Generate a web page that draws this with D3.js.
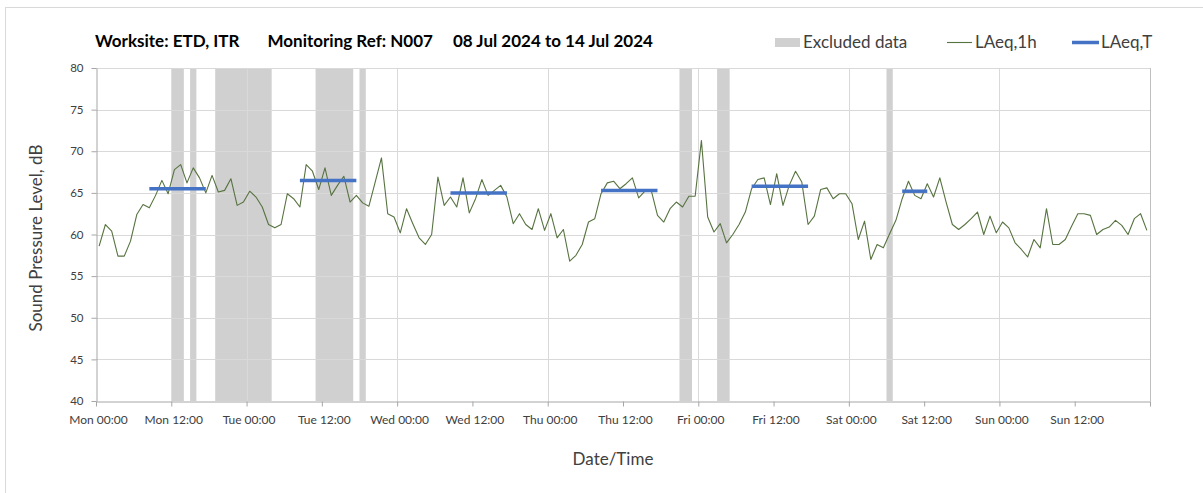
<!DOCTYPE html>
<html><head><meta charset="utf-8">
<script src="https://cdn.jsdelivr.net/npm/d3@7"></script>
<style>
body{margin:0;background:#fff}
svg text{font-family:Lato,"Open Sans","Noto Sans",sans-serif}
</style>
</head><body>
<svg id="c" width="1203" height="493"></svg>
<script>
// ---------- data ----------
const startDate = "2024-07-08T00:00:00Z";
const titleParts = ["Worksite: ETD, ITR", "Monitoring Ref: N007", "08 Jul 2024 to 14 Jul 2024"];
const yTicks = [40, 45, 50, 55, 60, 65, 70, 75, 80];
const xTickHours = [0,12,24,36,48,60,72,84,96,108,120,132,144,156,168];
const xLabelCount = 14;
// hourly LAeq,1h values (one per clock hour from Mon 00:00)
const laeq1h = [
 58.6, 61.2, 60.4, 57.4, 57.4, 59.2, 62.4, 63.6, 63.2, 64.7,
 66.5, 64.9, 67.8, 68.4, 66.2, 68.0, 66.8, 65.0, 67.1, 65.1,
 65.3, 66.7, 63.5, 63.9, 65.2, 64.5, 63.3, 61.2, 60.8, 61.2,
 64.9, 64.3, 63.3, 68.4, 67.6, 65.4, 68.0, 64.7, 65.9, 67.0,
 63.9, 64.7, 63.8, 63.4, 66.3, 69.2, 62.5, 62.1, 60.2, 63.1,
 61.3, 59.6, 58.8, 60.0, 66.9, 63.5, 64.5, 63.3, 66.8, 62.6,
 64.3, 66.6, 64.7, 65.3, 65.9, 64.5, 61.3, 62.5, 61.2, 60.6,
 63.1, 60.5, 62.5, 59.6, 60.6, 56.8, 57.5, 58.8, 61.5, 61.9,
 64.9, 66.2, 66.4, 65.5, 66.1, 66.8, 64.4, 65.2, 65.3, 62.3,
 61.5, 63.1, 63.9, 63.3, 64.6, 64.6, 71.3, 62.1, 60.3, 61.3,
 59.0, 60.0, 61.2, 62.7, 65.5, 66.6, 66.8, 63.6, 67.3, 63.5,
 65.9, 67.6, 66.3, 61.2, 62.2, 65.4, 65.6, 64.3, 64.9, 64.9,
 63.7, 59.4, 61.6, 57.0, 58.8, 58.4, 60.1, 61.7, 64.3, 66.4,
 64.7, 64.3, 66.1, 64.5, 66.8, 63.9, 61.2, 60.6, 61.2, 61.9,
 62.7, 60.0, 62.2, 60.2, 61.5, 60.8, 59.0, 58.2, 57.3, 59.4,
 58.4, 63.1, 58.8, 58.8, 59.4, 61.0, 62.5, 62.5, 62.3, 60.0,
 60.6, 60.9, 61.7, 61.1, 60.0, 61.9, 62.5, 60.5
];
// excluded data periods (hours from start)
const excludedStart = [12, 15, 19, 35, 42, 93, 99, 126];
const excludedEnd   = [14, 16, 28, 41, 43, 95, 101, 127];
// LAeq,T periods (clock hours from start) and values
const periodStart = [8, 32, 56, 80, 104, 128];
const periodEnd   = [18, 42, 66, 90, 114, 133];
const periodValue = [65.5, 66.5, 65.0, 65.3, 65.8, 65.2];

// ---------- chart ----------
const t0 = new Date(startDate);
const hr = h => new Date(t0.getTime() + h * 3600000);
const svg = d3.select("#c");

svg.append("rect").attr("x", 5.5).attr("y", 7.5).attr("width", 1400).attr("height", 600)
  .attr("fill", "#fff").attr("stroke", "#d9d9d9");

const x = d3.scaleUtc().domain([hr(0), hr(168)]).range([96, 1150]);
const y = d3.scaleLinear().domain([40, 80]).range([401, 68]);
const [yB, yT] = y.range();

// excluded periods
svg.append("g").selectAll("rect").data(excludedStart.map((s, i) => [s, excludedEnd[i]]))
  .join("rect")
  .attr("x", d => x(hr(d[0]))).attr("width", d => x(hr(d[1])) - x(hr(d[0])))
  .attr("y", yT).attr("height", yB - yT).attr("fill", "#d0d0d0");

// gridlines
svg.append("g").selectAll("line").data(yTicks.filter(v => v > 40)).join("line")
  .attr("x1", 96).attr("x2", 1150).attr("y1", d => Math.round(y(d)) + 0.5).attr("y2", d => Math.round(y(d)) + 0.5)
  .attr("stroke", "#d9d9d9");
svg.append("g").selectAll("line").data([24, 48, 72, 96, 120, 144]).join("line")
  .attr("x1", d => Math.round(x(hr(d))) + 0.5).attr("x2", d => Math.round(x(hr(d))) + 0.5)
  .attr("y1", yT).attr("y2", yB).attr("stroke", "#d9d9d9");
svg.append("line").attr("x1", 1150.5).attr("x2", 1150.5).attr("y1", yT).attr("y2", yB).attr("stroke", "#c0c0c0");

// axes
const fmt = d3.utcFormat("%a %H:%M");
const xAxis = d3.axisBottom(x).tickValues(xTickHours.map(hr))
  .tickFormat((d, i) => i < xLabelCount ? fmt(d) : "")
  .tickSize(5).tickSizeOuter(0).tickPadding(9);
const gx = svg.append("g").attr("transform", `translate(0,${Math.round(yB) + 0.5})`).call(xAxis);
gx.selectAll("text").attr("dx", 2).style("font-size", "12px").attr("fill", "#404040");

const yAxis = d3.axisLeft(y).tickValues(yTicks).tickSize(5).tickSizeOuter(0).tickPadding(8);
const gy = svg.append("g").attr("transform", "translate(96.5,0)").call(yAxis);
gy.selectAll("text").style("font-size", "11.5px").attr("fill", "#404040");
[gx, gy].forEach(g => {
  g.select(".domain").attr("stroke", "#a6a6a6");
  g.selectAll(".tick line").attr("stroke", "#a6a6a6");
});

// LAeq,1h line
const line = d3.line().x((d, i) => x(hr(i + 0.5))).y(d => y(d));
svg.append("path").datum(laeq1h).attr("d", line)
  .attr("fill", "none").attr("stroke", "#577340").attr("stroke-width", 1.1).attr("stroke-linejoin", "round");

// LAeq,T segments
svg.append("g").selectAll("line").data(periodStart.map((s, i) => ({s, e: periodEnd[i], v: periodValue[i]})))
  .join("line")
  .attr("x1", d => x(hr(d.s + 0.5))).attr("x2", d => x(hr(d.e - 0.5)))
  .attr("y1", d => y(d.v)).attr("y2", d => y(d.v))
  .attr("stroke", "#4472c4").attr("stroke-width", 3.5);

// title
const title = svg.append("text").attr("y", 47).style("font-size", "17px").style("font-weight", "bold").attr("fill", "#000");
[95, 267.5, 453].forEach((px, i) => title.append("tspan").attr("x", px).text(titleParts[i]));

// axis titles
svg.append("text").attr("transform", "translate(42,238) rotate(-90)").attr("text-anchor", "middle")
  .style("font-size", "17px").attr("fill", "#404040").text("Sound Pressure Level, dB");
svg.append("text").attr("x", 613).attr("y", 465).attr("text-anchor", "middle")
  .style("font-size", "17px").attr("fill", "#404040").text("Date/Time");

// legend
const lg = svg.append("g");
lg.append("rect").attr("x", 775).attr("y", 38).attr("width", 25).attr("height", 9).attr("fill", "#d0d0d0");
lg.append("text").attr("x", 803).attr("y", 48).style("font-size", "17px").attr("fill", "#404040").text("Excluded data");
lg.append("line").attr("x1", 947).attr("x2", 972).attr("y1", 42.5).attr("y2", 42.5).attr("stroke", "#577340").attr("stroke-width", 1.1);
lg.append("text").attr("x", 975).attr("y", 48).style("font-size", "17px").attr("fill", "#404040").text("LAeq,1h");
lg.append("line").attr("x1", 1072).attr("x2", 1099).attr("y1", 42.5).attr("y2", 42.5).attr("stroke", "#4472c4").attr("stroke-width", 3.5);
lg.append("text").attr("x", 1101).attr("y", 48).style("font-size", "17px").attr("fill", "#404040").text("LAeq,T");
</script>
</body></html>
